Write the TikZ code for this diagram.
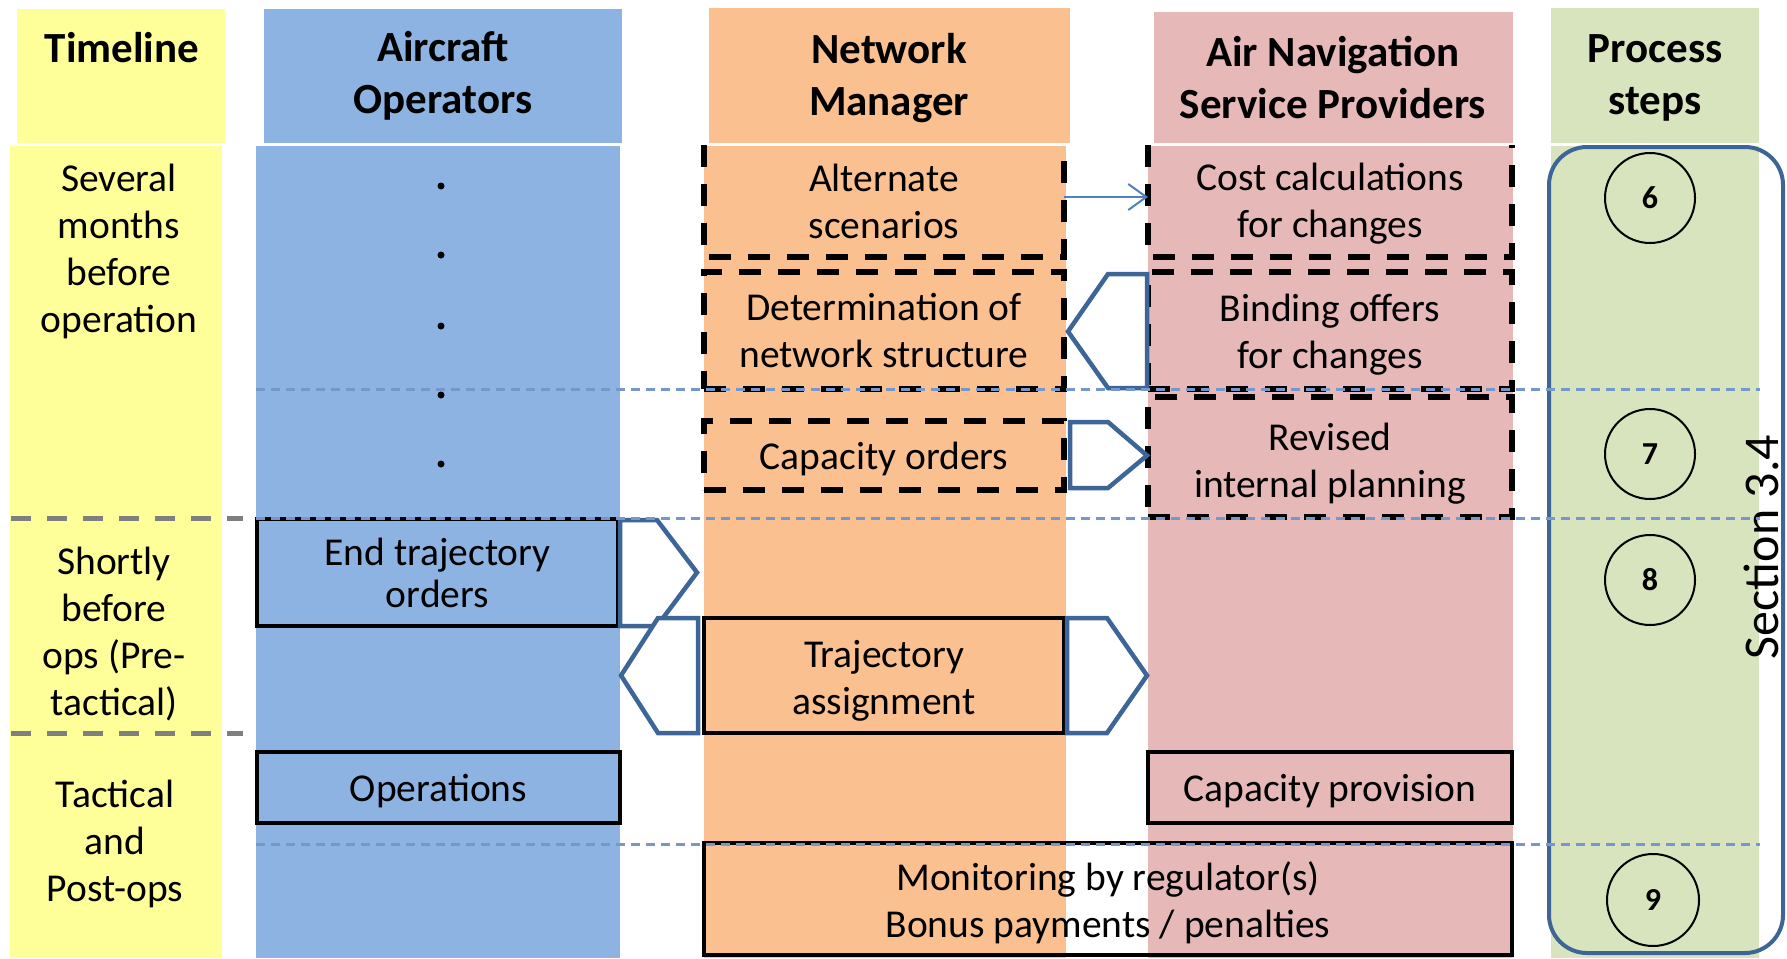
\documentclass[tikz,border=0pt]{standalone}
\usepackage{fontspec}
\setmainfont{Carlito}
\usetikzlibrary{calc,arrows.meta}

\definecolor{tlyellow}{HTML}{FFFF99}
\definecolor{aoblue}{HTML}{8DB3E2}
\definecolor{nmorange}{HTML}{FAC090}
\definecolor{anspred}{HTML}{E6B9B8}
\definecolor{psgreen}{HTML}{D7E4BD}
\definecolor{chevblue}{HTML}{3D6598}
\definecolor{sepblue}{HTML}{7597CC}
\definecolor{arrowblue}{HTML}{4F81BD}
\definecolor{tlgray}{HTML}{7F7F7F}

% top strut that lowers the text block inside a task box
\newcommand\lowtext[1]{\rule{0pt}{#1}}

\begin{document}
\begin{tikzpicture}[x=1pt,y=-1pt,
  lane/.style={rectangle, inner sep=0pt, outer sep=0pt, draw=none},
  hdr/.style={font=\fontsize{43}{52}\selectfont\bfseries, align=center, inner sep=0pt},
  txt/.style={font=\fontsize{39.5}{47}\selectfont, align=center, inner sep=0pt},
  taskbox/.style={txt, rectangle, minimum width=#1, outer sep=0pt},
  solidbox/.style={draw=black, line width=4.5pt},
  dashbox/.style={draw=black, line width=5.5pt, dash pattern=on 22pt off 17pt},
  chev/.style={draw=chevblue, fill=white, line width=4.5pt, line join=miter},
  sepline/.style={draw=sepblue, line width=3pt, dash pattern=on 9pt off 6pt},
  tldash/.style={draw=tlgray, line width=5pt, dash pattern=on 20pt off 16pt},
  stepcircle/.style={circle, draw=black, line width=2pt, minimum size=90pt, inner sep=0pt,
                     font=\fontsize{32}{36}\selectfont\bfseries},
  dot/.style={circle, fill=black, minimum size=7pt, inner sep=0pt}
]
\useasboundingbox (0,0) rectangle (1787,958);

% ---------- swimlane headers ----------
\node[lane, fill=tlyellow, minimum width=208pt, minimum height=134pt] (hTL) at (121,76) {};
\node[lane, fill=aoblue,   minimum width=358pt, minimum height=134pt] (hAO) at (443,76) {};
\node[lane, fill=nmorange, minimum width=361pt, minimum height=135pt] (hNM) at (889.5,75.5) {};
\node[lane, fill=anspred,  minimum width=359pt, minimum height=131pt] (hAN) at (1333.5,77.5) {};
\node[lane, fill=psgreen,  minimum width=208pt, minimum height=135pt] (hPS) at (1655,75.5) {};

% ---------- swimlane bodies ----------
\node[lane, fill=tlyellow, minimum width=212pt, minimum height=812pt] (bTL) at (116,552) {};
\node[lane, fill=aoblue,   minimum width=364pt, minimum height=812pt] (bAO) at (438,552) {};
\node[lane, fill=nmorange, minimum width=362pt, minimum height=812pt] (bNM) at (885,552) {};
\node[lane, fill=anspred,  minimum width=365pt, minimum height=812pt] (bAN) at (1330.5,552) {};
\node[lane, fill=psgreen,  minimum width=208pt, minimum height=812pt] (bPS) at (1655,552) {};

% process steps frame
\draw[chevblue, line width=4pt, rounded corners=38pt] (1549,147) rectangle (1783,953);

% ---------- header texts ----------
\node[hdr] (tTL) at (122,48) {Timeline};
\node[hdr] (tAO) at (443,76) {Aircraft\\Operators};
\node[hdr] (tNM) at (889,78) {Network\\Manager};
\node[hdr] (tAN) at (1333,78) {Air Navigation\\Service Providers};
\node[hdr] (tPS) at (1655,78) {Process\\steps};

% ---------- timeline phases ----------
\node[txt] (ph1) at (119,251) {Several\\months\\before\\operation};
\node[txt] (ph2) at (114,634) {Shortly\\before\\ops (Pre-\\tactical)};
\node[txt] (ph3) at (115,844) {Tactical\\and\\Post-ops};

% ---------- aircraft operators: continuation dots ----------
\node[dot] (d1) at (441,186) {};
\node[dot] (d2) at (441,255) {};
\node[dot] (d3) at (441,326) {};
\node[dot] (d4) at (441,395) {};
\node[dot] (d5) at (441,464) {};

% ---------- task boxes ----------
\node[taskbox=360pt, minimum height=112pt] (alt)  at (884,201)    {Alternate\\scenarios};
\node[taskbox=364pt, minimum height=112pt] (cost) at (1330,201)   {\lowtext{33pt}Cost calculations\\for changes};
\node[taskbox=360pt, minimum height=117pt, dashbox] (det)  at (884,330.5)  {Determination of\\network structure};
\node[taskbox=364pt, minimum height=117pt, dashbox] (bind) at (1330,330.5) {\lowtext{35pt}Binding offers\\for changes};
\node[taskbox=360pt, minimum height=69pt,  dashbox] (cap)  at (884,455.5)  {\lowtext{35pt}Capacity orders};
\node[taskbox=364pt, minimum height=120pt, dashbox] (rev)  at (1330,457)   {\lowtext{40pt}Revised\\internal planning};
\node[taskbox=361pt, minimum height=107pt, solidbox, font=\fontsize{39.5}{42}\selectfont] (end) at (437.5,572.5) {End trajectory\\orders};
\node[taskbox=360pt, minimum height=115pt, solidbox] (traj) at (884,675.5)  {\lowtext{38pt}Trajectory\\assignment};
\node[taskbox=363pt, minimum height=71pt,  solidbox] (ops)  at (438.5,787.5) {\lowtext{35pt}Operations};
\node[taskbox=364pt, minimum height=71pt,  solidbox] (prov) at (1330,787.5)  {\lowtext{35pt}Capacity provision};
\node[taskbox=808pt, minimum height=112pt, solidbox] (mon)  at (1108,899)    {\lowtext{37pt}Monitoring by regulator(s)\\Bonus payments / penalties};

% open-topped dashed frames of the first row
\draw[dashbox] (alt.north west) |- (alt.south east) -- (alt.north east);
\draw[dashbox] (cost.north west) |- (cost.south east) -- (cost.north east);

% ---------- information flows ----------
\draw[arrowblue, line width=2pt, -{Straight Barb[length=18pt,width=26pt]}]
  ($(alt.east)+(0,-4)$) -- ($(cost.west)+(0,-4)$);

% binding offers -> network structure
\draw[chev] ($(bind.north west)+(-1,2)$) -- ++(-39,0) -- ($(det.east)+(4,1)$)
  -- ($(bind.south west)+(-40,-1)$) -- ($(bind.south west)+(-1,-1)$) -- cycle;
% capacity orders -> revised planning
\draw[chev] ($(cap.north east)+(6,1)$) -- ++(38,0) -- ($(rev.west |- cap.east)+(-1,0)$)
  -- ($(cap.south east)+(44,-2)$) -- ($(cap.south east)+(6,-2)$) -- cycle;
% end trajectory orders -> network manager
\draw[chev] ($(end.north east)+(2,1)$) -- ++(37,0) -- ($(end.east)+(79,0)$)
  -- ($(end.south east)+(39,0)$) -- ($(end.south east)+(2,0)$) -- cycle;
% trajectory assignment -> aircraft operators
\draw[chev] ($(traj.north west)+(-6,0)$) -- ++(-40,0) -- ($(end.east |- traj.west)+(3,0)$)
  -- ($(traj.south west)+(-46,0)$) -- ($(traj.south west)+(-6,0)$) -- cycle;
% trajectory assignment -> service providers
\draw[chev] ($(traj.north east)+(3,0)$) -- ++(40,0) -- ($(traj.east)+(83,0)$)
  -- ($(traj.south east)+(43,0)$) -- ($(traj.south east)+(3,0)$) -- cycle;

% ---------- process steps ----------
\node[stepcircle] (s6) at (1650,198) {6};
\node[stepcircle] (s7) at (1650,454) {7};
\node[stepcircle] (s8) at (1650,580) {8};
\node[stepcircle, minimum size=92pt] (s9) at (1653,900) {9};
\node[font=\fontsize{50}{58}\selectfont, rotate=90, inner sep=0pt] (sec) at (1761,547) {Section 3.4};

% ---------- phase separators ----------
\draw[sepline] (256,389) -- (1760,389);
\draw[sepline] (256,518) -- (1760,518);
\draw[sepline] (256,844) -- (1760,844);
\draw[tldash] (11,518) -- (243,518);
\draw[tldash] (11,733) -- (243,733);
\end{tikzpicture}
\end{document}
